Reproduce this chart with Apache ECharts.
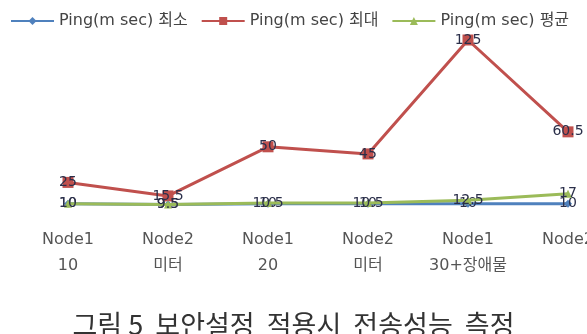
<!DOCTYPE html>
<html>
<head>
<meta charset="utf-8">
<script src="https://cdn.jsdelivr.net/npm/echarts@6/dist/echarts.min.js"></script>
<style>
	html, body { margin: 0; padding: 0; background: #fff; }
	#chart { width: 587px; height: 334px; }
</style>
</head>
<body>
<div id="chart"></div>
<script>
	// 카테고리 (두 줄 라벨)
	const categories = ['Node1\n10', 'Node2\n미터', 'Node1\n20', 'Node2\n미터', 'Node1\n30+장애물', 'Node2']
	const seriesNames = ['Ping(m sec) 최소', 'Ping(m sec) 최대', 'Ping(m sec) 평균']
	const pingMin = [10, 9.5, 10, 10, 10, 10]
	const pingMax = [25, 15.5, 50, 45, 125, 60.5]
	const pingAvg = [10, 9.5, 10.5, 10.5, 12.5, 17]

	const font = '"DejaVu Sans", "Noto Sans CJK KR", sans-serif'
	const labelStyle = {
		show: true,
		position: 'inside',
		color: '#2b2f4a',
		fontSize: 14,
		fontFamily: font
	}

	const chart = echarts.init(document.getElementById('chart'))
	chart.setOption({
		animation: false,
		title: {
			text: '그림 5  보안설정  적용시  전송성능  측정',
			left: 'center',
			top: 306,
			textStyle: {
				fontWeight: 'normal',
				fontSize: 27,
				color: '#333',
				fontFamily: '"Noto Sans CJK KR", sans-serif'
			}
		},
		legend: {
			data: seriesNames,
			left: 5,
			top: 8,
			itemGap: 13,
			itemWidth: 43,
			itemHeight: 10,
			textStyle: {
				fontSize: 16,
				color: '#444',
				fontFamily: font
			}
		},
		grid: {
			left: 68,
			right: 19,
			top: 40,
			bottom: 116,
			containLabel: false,
			outerBoundsMode: 'none'
		},
		xAxis: {
			type: 'category',
			boundaryGap: false,
			data: categories,
			axisLine: { show: false },
			axisTick: { show: false },
			axisLabel: {
				interval: 0,
				hideOverlap: false,
				margin: 9,
				color: '#555',
				fontSize: 16,
				lineHeight: 26,
				fontFamily: font
			}
		},
		yAxis: {
			type: 'value',
			min: 0,
			max: 125,
			show: false,
			splitLine: { show: false }
		},
		series: [{
			name: seriesNames[0],
			type: 'line',
			data: pingMin,
			color: '#4F81BD',
			symbol: 'diamond',
			symbolSize: 8,
			lineStyle: { width: 3 },
			label: labelStyle,
			z: 3
		}, {
			name: seriesNames[1],
			type: 'line',
			data: pingMax,
			color: '#C0504D',
			symbol: 'rect',
			symbolSize: 11,
			lineStyle: { width: 3 },
			label: labelStyle,
			z: 2
		}, {
			name: seriesNames[2],
			type: 'line',
			data: pingAvg,
			color: '#9BBB59',
			symbol: 'triangle',
			symbolSize: 8,
			lineStyle: { width: 3 },
			label: labelStyle,
			z: 4
		}]
	})
</script>
</body>
</html>
